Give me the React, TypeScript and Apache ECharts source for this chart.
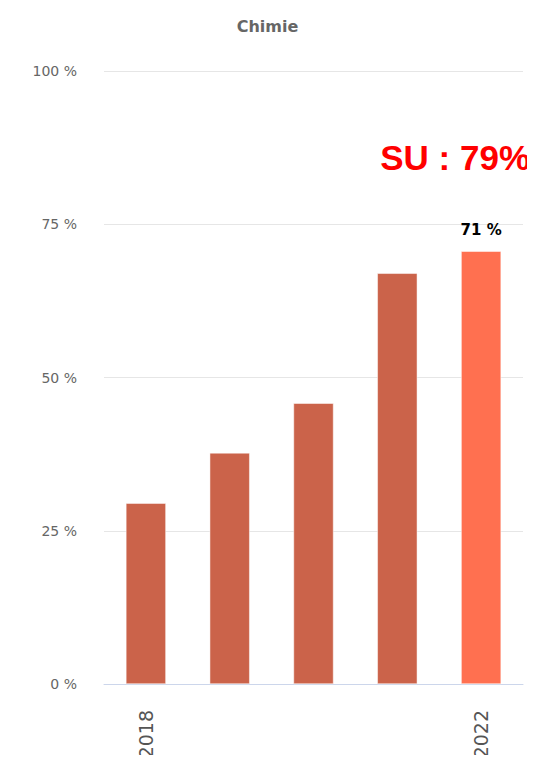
import React, { useEffect, useRef } from "react";
import * as echarts from "echarts";

const categories = ["2018", "2019", "2020", "2021", "2022"];
const values = [29.5, 37.7, 45.8, 67.0, 70.6];
const yTicks = [0, 25, 50, 75, 100];
const titleText = "Chimie";
const noteText = "SU : 79%";

export default function App() {
  const ref = useRef<HTMLDivElement>(null);
  useEffect(() => {
    if (!ref.current) return;
    const chart = echarts.init(ref.current, null, { renderer: "svg" });
    const last = values.length - 1;
    chart.setOption({
      animation: false,
      title: {
        text: titleText,
        left: "center",
        top: 13,
        textStyle: { fontFamily: "DejaVu Sans", fontSize: 16, fontWeight: "bold", color: "#666666" },
      },
      grid: { left: 104, right: 12, top: 71, bottom: 79 },
      xAxis: {
        type: "category",
        data: categories,
        axisLine: { lineStyle: { color: "#ccd6eb" } },
        axisTick: { show: false },
        axisLabel: {
          rotate: 90,
          margin: 26,
          interval: (i: number) => i === 0 || i === last,
          fontFamily: "DejaVu Sans",
          fontSize: 19,
          color: "#555555",
        },
      },
      yAxis: {
        type: "value",
        min: yTicks[0],
        max: yTicks[yTicks.length - 1],
        interval: 25,
        axisLabel: {
          formatter: "{value} %",
          margin: 27,
          fontFamily: "DejaVu Sans",
          fontSize: 14,
          color: "#666666",
        },
        splitLine: { lineStyle: { color: "#e6e6e6" } },
        axisLine: { show: false },
        axisTick: { show: false },
      },
      series: [
        {
          type: "bar",
          barWidth: 40,
          data: values.map((v, i) => ({
            value: v,
            itemStyle: {
              color: i === last ? "#ff7050" : "#cb634a",
              borderColor: "#ffffff",
              borderWidth: 0.5,
            },
            label: {
              show: i === last,
              position: "top",
              distance: 14,
              formatter: (p: any) => Math.round(p.value) + " %",
              fontFamily: "DejaVu Sans",
              fontWeight: "bold",
              fontSize: 15,
              color: "#000000",
            },
          })),
        },
      ],
      graphic: [
        {
          type: "text",
          right: 5,
          top: 140,
          style: {
            text: noteText,
            fill: "#ff0000",
            font: "bold 35px 'Liberation Sans', Arial, sans-serif",
          },
        },
      ],
    });
    return () => chart.dispose();
  }, []);
  return <div ref={ref} style={{ width: 535, height: 763, margin: -8 }} />;
}
